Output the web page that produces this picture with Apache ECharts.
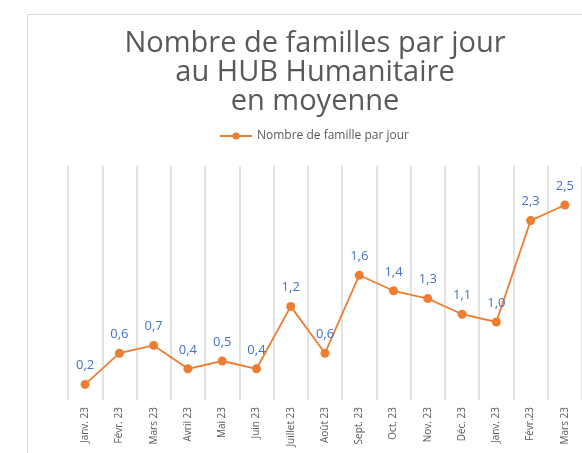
<!DOCTYPE html>
<html>
<head>
<meta charset="utf-8">
<title>Nombre de familles par jour</title>
<script src="https://cdn.jsdelivr.net/npm/echarts@6/dist/echarts.min.js"></script>
<style>
    html, body { margin: 0; padding: 0; background: #fff; }
    #chart { width: 582px; height: 453px; }
</style>
</head>
<body>
<div id="chart"></div>
<script>
    // données
    const mois = ["Janv. 23", "Févr. 23", "Mars 23", "Avril 23", "Mai 23", "Juin 23", "Juillet 23",
        "Août 23", "Sept. 23", "Oct. 23", "Nov. 23", "Déc. 23", "Janv. 23", "Févr.23", "Mars 23"];
    const famillesParJour = [0.2, 0.6, 0.7, 0.4, 0.5, 0.4, 1.2, 0.6, 1.6, 1.4, 1.3, 1.1, 1.0, 2.3, 2.5];
    const nomSerie = "Nombre de famille par jour";
    const titre = "Nombre de familles par jour\nau HUB Humanitaire\nen moyenne";

    const police = "'Open Sans', Lato, sans-serif";
    const chart = echarts.init(document.getElementById('chart'), null, { renderer: 'canvas' });

    chart.setOption({
        animation: false,
        backgroundColor: '#fff',
        graphic: [{
            type: 'rect',
            left: 25, top: 12,
            shape: { width: 620, height: 460 },
            style: { fill: 'none', stroke: '#d9d9d9', lineWidth: 1 },
            silent: true
        }],
        title: {
            text: titre,
            left: 310,
            top: 24,
            textAlign: 'center',
            textStyle: {
                fontFamily: police,
                fontSize: 29,
                fontWeight: 'normal',
                color: '#595959',
                lineHeight: 29,
                align: 'center'
            }
        },
        legend: {
            data: [nomSerie],
            left: 214,
            top: 125,
            itemWidth: 32,
            itemHeight: 9,
            itemGap: 4,
            textStyle: { fontFamily: police, fontSize: 12, color: '#595959' }
        },
        grid: { left: 68, right: 0, top: 166, bottom: 53, containLabel: false },
        xAxis: {
            type: 'category',
            data: mois,
            boundaryGap: true,
            axisLine: { show: false },
            axisTick: { show: false },
            splitLine: { show: true, lineStyle: { color: '#dcdcdc', width: 1.6 } },
            axisLabel: {
                rotate: 90,
                margin: 7,
                interval: 0,
                fontFamily: police,
                fontSize: 10,
                color: '#595959'
            }
        },
        yAxis: {
            type: 'value',
            min: 0,
            max: 3,
            show: false,
            splitLine: { show: false }
        },
        series: [{
            name: nomSerie,
            type: 'line',
            data: famillesParJour,
            symbol: 'circle',
            symbolSize: 9,
            itemStyle: { color: '#ED7D31' },
            lineStyle: { color: '#ED7D31', width: 1.8 },
            label: {
                show: true,
                position: 'top',
                distance: 8,
                fontFamily: police,
                fontSize: 13,
                color: '#4472C4',
                formatter: p => p.value.toFixed(1).replace('.', ',')
            }
        }]
    });
</script>
</body>
</html>
